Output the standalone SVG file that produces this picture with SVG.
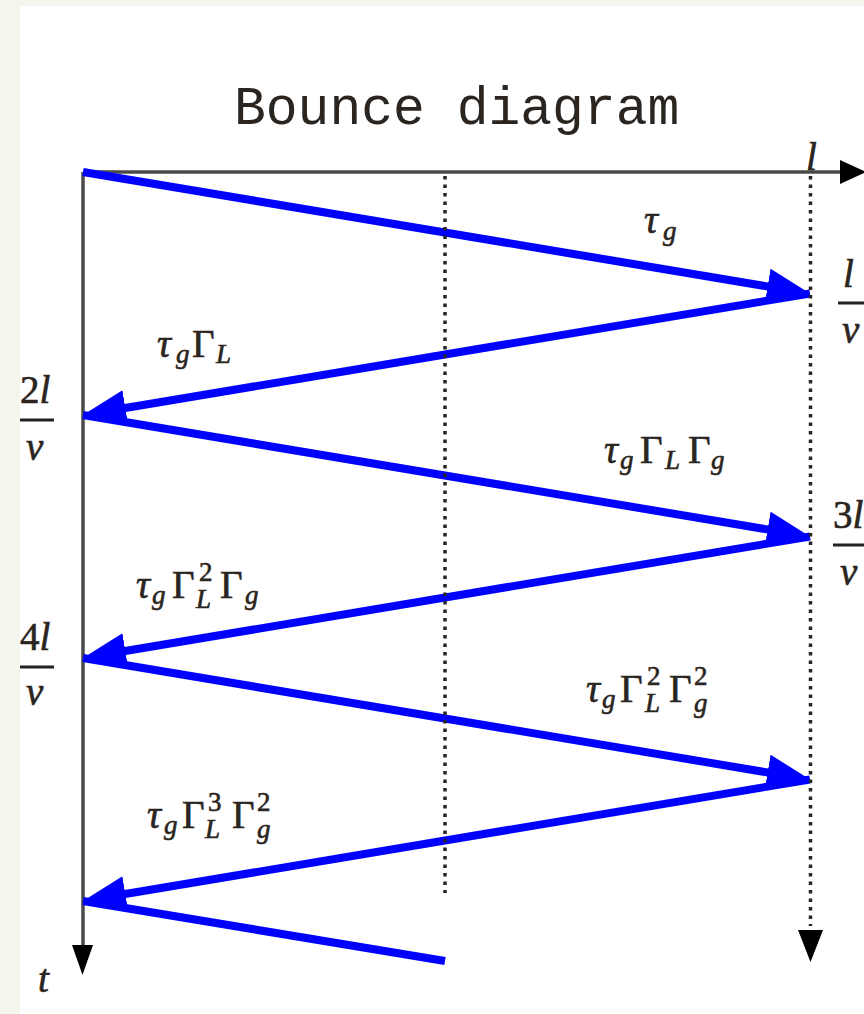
<svg xmlns="http://www.w3.org/2000/svg" width="864" height="1014" viewBox="0 0 864 1014">
<style>
.axis{stroke:#4a4a4a;stroke-width:3.5;fill:none}
.dot{stroke:#262626;stroke-width:3.5;stroke-dasharray:3.5 5;fill:none}
.wave{stroke:#0000ff;stroke-width:8;fill:none}
.head{fill:#000}
.m{font-family:"Liberation Serif","Times New Roman",serif;font-size:39px;fill:#2a2520;stroke:#2a2520;stroke-width:0.6;font-style:italic}
.up{font-style:normal}
.s{font-size:27px}
.title{font-family:"Liberation Mono","Courier New",monospace;font-size:53px;fill:#2a2520}
.bar{stroke:#222;stroke-width:3}
</style>
<defs>
<marker id="blueHead" markerUnits="userSpaceOnUse" viewBox="0 -18 43 36" markerWidth="43" markerHeight="36" refX="23" refY="0" orient="auto">
<path d="M0,-18 L43,0 L0,18 z" fill="#0000ff"/>
</marker>
</defs>
<rect x="0" y="0" width="864" height="1014" fill="#f4f5ec"/>
<rect x="20" y="6" width="844" height="1008" fill="#ffffff"/>
<text id="title" class="title" x="234" y="124">Bounce diagram</text>
<g id="axes">
<line class="axis" x1="83" y1="172" x2="842" y2="172"/>
<polygon class="head" points="840,160 866,172 840,184"/>
<line class="axis" x1="83" y1="172" x2="83" y2="947"/>
<polygon class="head" points="72,945 93,945 82.5,975"/>
</g>
<g id="connectors">
<line class="wave" x1="83" y1="172" x2="790.27" y2="290.22" marker-end="url(#blueHead)"/>
<line class="wave" x1="810" y1="293.5" x2="102.73" y2="411.72" marker-end="url(#blueHead)"/>
<line class="wave" x1="83" y1="415" x2="790.27" y2="533.22" marker-end="url(#blueHead)"/>
<line class="wave" x1="810" y1="536.5" x2="102.73" y2="654.72" marker-end="url(#blueHead)"/>
<line class="wave" x1="83" y1="658" x2="790.27" y2="776.22" marker-end="url(#blueHead)"/>
<line class="wave" x1="810" y1="779.5" x2="102.73" y2="897.72" marker-end="url(#blueHead)"/>
<line class="wave" x1="83" y1="901" x2="445" y2="961"/>
</g>
<g id="dotted">
<line class="dot" x1="445" y1="176" x2="445" y2="893"/>
<line class="dot" x1="810.5" y1="176" x2="810.5" y2="926"/>
<polygon class="head" points="798,930 823,930 810.5,962"/>
</g>
<g id="label-l-axis"><text class="m" x="806" y="170">l</text></g>
<g id="label-t"><text class="m" x="38" y="992">t</text></g>
<g id="frac-l-v">
<text class="m" x="843" y="287">l</text>
<line class="bar" x1="838" y1="303" x2="866" y2="303"/>
<text class="m" x="842" y="343">v</text>
</g>
<g id="frac-3l-v">
<text class="m" x="833" y="528"><tspan class="up">3</tspan>l</text>
<line class="bar" x1="833" y1="545" x2="866" y2="545"/>
<text class="m" x="840" y="585">v</text>
</g>
<g id="frac-2l-v">
<text class="m" x="20" y="403"><tspan class="up">2</tspan>l</text>
<line class="bar" x1="20" y1="420" x2="54" y2="420"/>
<text class="m" x="26" y="460">v</text>
</g>
<g id="frac-4l-v">
<text class="m" x="20" y="650"><tspan class="up">4</tspan>l</text>
<line class="bar" x1="20" y1="667" x2="54" y2="667"/>
<text class="m" x="26" y="705">v</text>
</g>
<g id="label-1">
<text class="m" y="233"><tspan x="644">τ</tspan><tspan class="s" x="663" y="240">g</tspan></text>
</g>
<g id="label-2">
<text class="m" y="357"><tspan x="157">τ</tspan><tspan class="s" x="176" y="363">g</tspan><tspan class="up" x="192" y="357">Γ</tspan><tspan class="s" x="216" y="363">L</tspan></text>
</g>
<g id="label-3">
<text class="m" y="463"><tspan x="604">τ</tspan><tspan class="s" x="620" y="469">g</tspan><tspan class="up" x="640" y="463">Γ</tspan><tspan class="s" x="665" y="469">L</tspan><tspan class="up" x="688" y="463">Γ</tspan><tspan class="s" x="711" y="469">g</tspan></text>
</g>
<g id="label-4">
<text class="m" y="598"><tspan x="136">τ</tspan><tspan class="s" x="152" y="604">g</tspan><tspan class="up" x="172" y="598">Γ</tspan><tspan class="s up" x="199" y="581">2</tspan><tspan class="s" x="196" y="608">L</tspan><tspan class="up" x="220" y="598">Γ</tspan><tspan class="s" x="245" y="604">g</tspan></text>
</g>
<g id="label-5">
<text class="m" y="702"><tspan x="586">τ</tspan><tspan class="s" x="602" y="708">g</tspan><tspan class="up" x="620" y="702">Γ</tspan><tspan class="s up" x="647" y="685">2</tspan><tspan class="s" x="645" y="712">L</tspan><tspan class="up" x="669" y="702">Γ</tspan><tspan class="s up" x="694" y="685">2</tspan><tspan class="s" x="694" y="712">g</tspan></text>
</g>
<g id="label-6">
<text class="m" y="828"><tspan x="147">τ</tspan><tspan class="s" x="164" y="834">g</tspan><tspan class="up" x="182" y="828">Γ</tspan><tspan class="s up" x="208" y="811">3</tspan><tspan class="s" x="205" y="838">L</tspan><tspan class="up" x="232" y="828">Γ</tspan><tspan class="s up" x="257" y="811">2</tspan><tspan class="s" x="257" y="838">g</tspan></text>
</g>
</svg>
